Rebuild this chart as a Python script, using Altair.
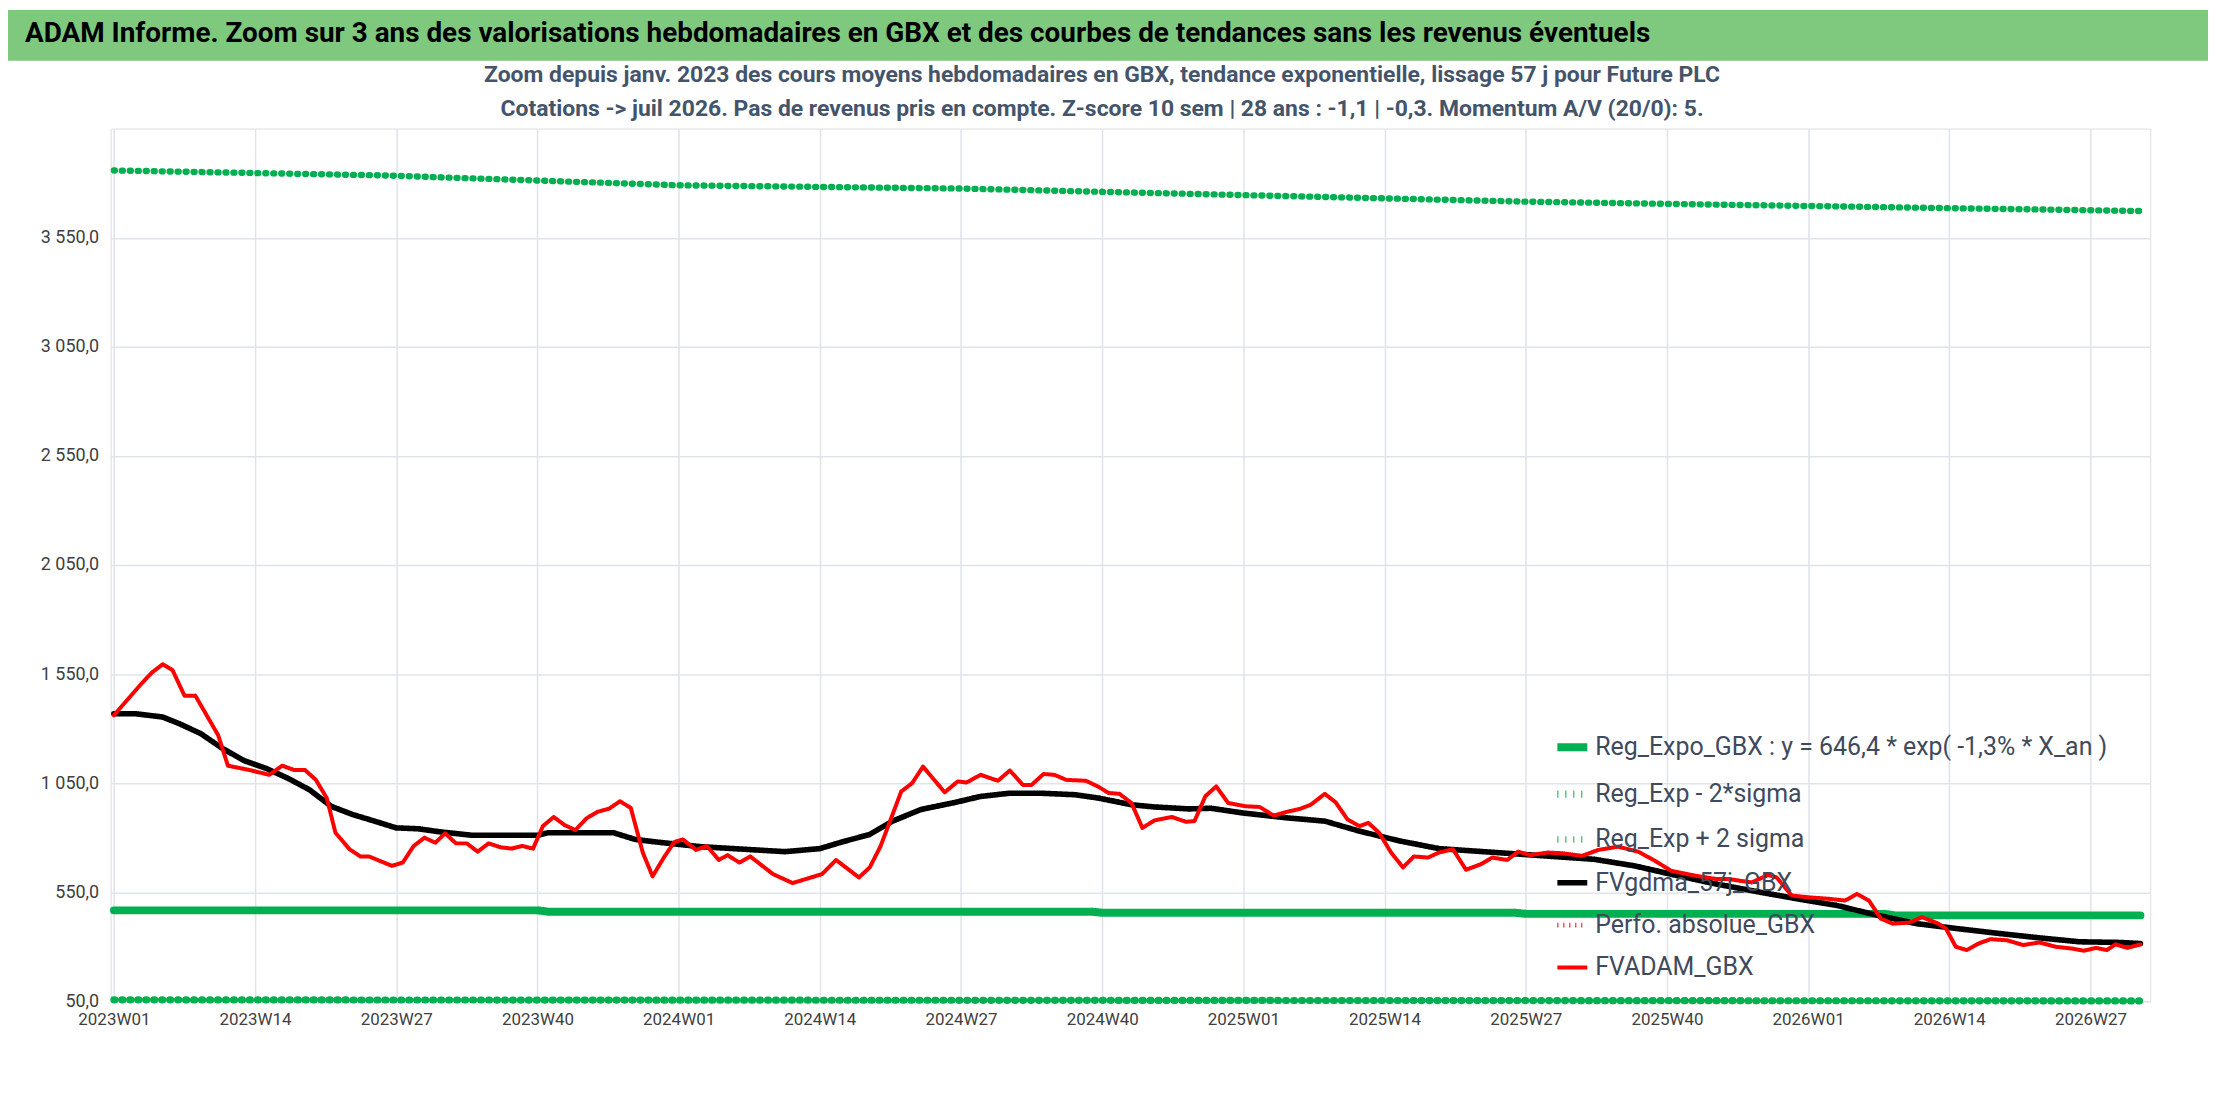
import altair as alt
import pandas as pd

# tick labels (week index -> label)
x_labels = ["2023W01", "2023W14", "2023W27", "2023W40", "2024W01", "2024W14", "2024W27",
            "2024W40", "2025W01", "2025W14", "2025W27", "2025W40", "2026W01", "2026W14", "2026W27"]
y_ticks = [50, 550, 1050, 1550, 2050, 2550, 3050, 3550]

# FVADAM_GBX (week index, value)
red_w = [0, 2.5, 3.5, 4.5, 5.4, 6.5, 7.5, 9.6, 10.5, 12.5, 14.3, 15.5, 16.6, 17.6, 18.6, 19.6, 20.4, 21.7,
         22.7, 23.5, 25.6, 26.6, 27.6, 28.6, 29.6, 30.5, 31.5, 32.5, 33.5, 34.5, 35.6, 36.6, 37.6, 38.6,
         39.5, 40.5, 41.5, 42.5, 43.5, 44.5, 45.6, 46.6, 47.6, 48.7, 49.6, 50.7, 51.6, 52.4, 53.6, 54.6,
         55.7, 56.5, 57.6, 58.6, 60.7, 62.5, 65.2, 66.5, 68.6, 69.6, 70.6, 72.5, 73.5, 74.5, 76.5, 77.7,
         78.5, 79.8, 81.4, 82.5, 83.7, 84.5, 85.6, 86.6, 87.7, 89.5, 90.6, 91.6, 92.6, 93.7, 94.7, 95.8,
         97.4, 98.7, 99.5, 100.5, 101.5, 102.6, 104.2, 105.5, 106.8, 107.9, 109.2, 110.2, 111.5, 112.5,
         113.6, 114.7, 115.5, 116.5, 117.6, 118.7, 119.7, 121.0, 122.0, 123.3, 124.5, 125.9, 126.9, 128.3,
         129.3, 130.4, 132.0, 133.3, 135.2, 136.7, 138.5, 140.4, 141.9, 143.4, 145.6, 147.5, 148.6, 150.8,
         152.3, 153.1, 154.5, 156.0, 157.9, 159.4, 160.5, 161.6, 162.7, 163.8, 165.3, 166.5, 168.0, 168.7,
         169.6, 170.6, 171.7, 172.8, 174.3, 175.8, 177.3, 178.8, 180.3, 181.4, 182.5, 183.5, 184.3, 185.4,
         186.6]
red_v = [1361, 1504, 1557, 1595, 1568, 1451, 1451, 1270, 1130, 1110, 1088, 1130, 1110, 1110, 1065, 982, 823, 747,
         714, 714, 671, 686, 762, 800, 777, 820, 774, 774, 736, 774, 756, 750, 762, 750,
         853, 895, 858, 835, 888, 918, 933, 967, 936, 732, 623, 714, 780, 792, 744, 762,
         698, 720, 686, 714, 633, 592, 633, 698, 618, 664, 762, 1012, 1050, 1126, 1008, 1058,
         1053, 1088, 1061, 1108, 1042, 1042, 1092, 1088, 1065, 1061, 1035, 1005, 1001, 959, 845, 879,
         895, 873, 876, 990, 1035, 959, 944, 941, 901, 917, 932, 951, 1001, 962,
         883, 853, 868, 823, 732, 664, 714, 709, 732, 747, 653, 679, 709, 698,
         736, 720, 732, 729, 717, 744, 759, 735, 694, 648, 626, 611, 611, 595,
         629, 618, 535, 527, 520, 512, 542, 512, 429, 406, 411, 436, 406, 383,
         300, 285, 315, 335, 330, 308, 320, 300, 292, 282, 295, 285, 311, 295,
         311]

# FVgdma_57j_GBX
blk_w = [0, 2, 4.5, 6, 8, 10, 12, 14, 16, 18, 20, 22, 24, 26, 28, 30, 33, 39, 40, 46, 48, 50, 54, 61.8, 65, 67,
         69.6, 71.7, 74.3, 77.5, 79.8, 82.5, 85.3, 88.5, 90.6, 93.7, 95.8, 99, 101, 104, 108, 111.5, 114.7,
         118.4, 122, 127.3, 132.5, 136.3, 140, 143.7, 147.5, 151.6, 155, 158.7, 162.4, 166, 169.8, 173.6,
         177.3, 181, 184.7, 186.6]
blk_v = [1368, 1368, 1353, 1323, 1277, 1209, 1153, 1118, 1073, 1020, 944, 906, 876, 845, 841, 827, 811, 811, 823,
         823, 792, 780, 759, 736, 750, 780, 815, 876, 929, 962, 989, 1004, 1004, 997, 982, 951, 941, 932, 935,
         913, 891, 876, 830, 785, 750, 732, 714, 701, 671, 629, 588, 550, 520, 489, 444, 406, 383, 361, 341,
         323, 320, 315]

# Reg_Expo_GBX
reg_w = [0, 39, 40, 90, 91, 129, 130, 163, 164, 186.6]
reg_v = [467, 467, 461, 461, 456, 456, 451, 451, 444, 444]

# Reg_Exp + 2 sigma
up_w = [0, 25, 52, 78, 104, 130, 156, 186.6]
up_v = [3858, 3835, 3790, 3775, 3745, 3715, 3695, 3672]

# Reg_Exp - 2*sigma
lo_w = [0, 186.6]
lo_v = [57, 52]

S_REG = "Reg_Expo_GBX : y = 646,4 * exp( -1,3% *  X_an )"
S_LO = "Reg_Exp - 2*sigma"
S_UP = "Reg_Exp + 2 sigma"
S_BLK = "FVgdma_57j_GBX"
S_PERF = "Perfo. absolue_GBX"
S_RED = "FVADAM_GBX"
order = [S_REG, S_LO, S_UP, S_BLK, S_PERF, S_RED]

rows = []
for name, ws, vs in [(S_REG, reg_w, reg_v), (S_LO, lo_w, lo_v), (S_UP, up_w, up_v),
                     (S_BLK, blk_w, blk_v), (S_RED, red_w, red_v)]:
    for i, (w, v) in enumerate(zip(ws, vs)):
        rows.append({"series": name, "week": w, "value": v, "i": i})
df = pd.DataFrame(rows)

FONT = "Roboto"
label_arr = "[" + ",".join("'%s'" % l for l in x_labels) + "]"

W, H = 2047, 876

lines = alt.Chart(df).mark_line(strokeCap="round", strokeJoin="round").encode(
    x=alt.X("week:Q", scale=alt.Scale(domain=[-0.3, 187.5], nice=False, zero=False),
            axis=alt.Axis(values=[13 * k for k in range(len(x_labels))],
                          labelExpr=label_arr + "[round(datum.value/13)]",
                          title=None, grid=True, gridColor="#dfe3ea", gridWidth=1.5,
                          domain=False, ticks=False, labelFontSize=17, labelColor="#404040",
                          labelFont=FONT, labelPadding=10)),
    y=alt.Y("value:Q", scale=alt.Scale(domain=[50, 4050], nice=False, zero=False),
            axis=alt.Axis(values=y_ticks, title=None, gridColor="#dfe3ea", gridWidth=1.5,
                          domain=False, ticks=False, labelFontSize=18, labelColor="#404040",
                          labelFont=FONT, labelPadding=12,
                          labelExpr="replace(replace(format(datum.value, ',.1f'), ',', ' '), '.', ',')")),
    color=alt.Color("series:N", sort=order,
                    scale=alt.Scale(domain=order,
                                    range=["#00b050", "#00b050", "#00b050", "#000000", "#ff0000", "#ff0000"]),
                    legend=alt.Legend(title=None, orient="none", legendX=1448, legendY=602,
                                      symbolType="stroke", symbolSize=900, symbolStrokeWidth=6,
                                      labelFontSize=25, labelFont=FONT, labelColor="#404a5c",
                                      rowPadding=12, labelLimit=700)),
    strokeDash=alt.StrokeDash("series:N", sort=order,
                              scale=alt.Scale(domain=order,
                                              range=[[1, 0], [1, 7], [1, 7], [1, 0], [1, 5], [1, 0]]),
                              legend=None),
    strokeWidth=alt.StrokeWidth("series:N",
                                scale=alt.Scale(domain=order, range=[8, 4, 4, 5.5, 3.5, 6.5]),
                                legend=None),
    order="i:Q",
)

banner = alt.Chart(pd.DataFrame({"a": [0]})).mark_rect(color="#7fc97f").encode(
    x=alt.value(-103), x2=alt.value(2105), y=alt.value(-119), y2=alt.value(-68))

banner_txt = alt.Chart(pd.DataFrame({"t": ["ADAM Informe. Zoom sur 3 ans des valorisations hebdomadaires en GBX et des courbes de tendances sans les revenus éventuels"]})).mark_text(
    align="left", baseline="middle", fontSize=28, fontWeight="bold", font=FONT, color="#000000").encode(
    text="t:N", x=alt.value(-86), y=alt.value(-95))

subs = alt.Chart(pd.DataFrame({
    "t": ["Zoom depuis janv. 2023 des cours moyens hebdomadaires en GBX, tendance exponentielle, lissage 57 j pour Future PLC",
          "Cotations -> juil 2026. Pas de revenus pris en compte. Z-score 10 sem | 28 ans : -1,1 | -0,3. Momentum A/V (20/0): 5."],
    "y": [-54, -20]})).mark_text(
    align="center", baseline="middle", fontSize=23, fontWeight="bold", font=FONT, color="#44546a").encode(
    text="t:N", x=alt.value(995), y=alt.Y("y:Q", scale=None))

chart = alt.layer(banner, banner_txt, subs, lines).properties(
    width=W, height=H,
    autosize=alt.AutoSizeParams(type="none"),
    padding={"left": 103, "top": 119, "right": 58, "bottom": 91},
).configure_view(stroke=None).configure(background="white")

chart.save("out.html", embed_options={"renderer": "svg", "actions": False})
